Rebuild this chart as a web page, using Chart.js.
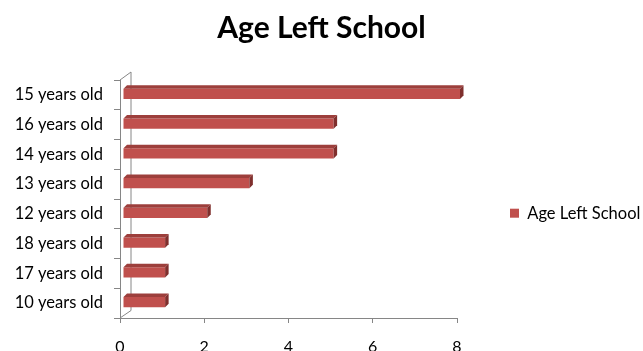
<!DOCTYPE html>
<html>
<head>
<meta charset="utf-8">
<script src="https://cdn.jsdelivr.net/npm/chart.js@4/dist/chart.umd.min.js"></script>
<style>
  body { margin: 0; background: #fff; }
  canvas { display: block; }
</style>
</head>
<body>
<canvas id="ageChart" width="643" height="351"></canvas>
<script>
var categories = ['15 years old', '16 years old', '14 years old', '13 years old',
                  '12 years old', '18 years old', '17 years old', '10 years old'];
var counts = [8, 5, 5, 3, 2, 1, 1, 1];
var seriesName = 'Age Left School';
var xTicks = [0, 2, 4, 6, 8];

var barColor = '#C0504D';
var axisGray = '#868686';
var fontFamily = 'Lato, "Open Sans", sans-serif';

// excel style 3d look: back wall lines + top / end faces of bars
var depth = 3.5;
var threeD = {
  id: 'threeD',
  beforeDatasetsDraw: function(chart) {
    var a = chart.chartArea, ctx = chart.ctx;
    ctx.save();
    ctx.strokeStyle = axisGray;
    ctx.lineWidth = 1;
    ctx.beginPath();
    ctx.moveTo(a.left, a.bottom);
    ctx.lineTo(a.left + 11, a.bottom - 7.5);
    ctx.lineTo(a.left + 11, a.top - 8);
    ctx.lineTo(a.left, a.top);
    ctx.stroke();
    ctx.restore();
    // bars sit a little into the depth
    ctx.save();
    ctx.translate(3, -1);
  },
  afterDatasetsDraw: function(chart) {
    var ctx = chart.ctx;
    var bars = chart.getDatasetMeta(0).data;
    bars.forEach(function(bar) {
      var p = bar.getProps(['x', 'y', 'base', 'height'], true);
      var top = p.y - p.height / 2, bottom = p.y + p.height / 2;
      ctx.fillStyle = '#9d3f3c';
      ctx.beginPath();
      ctx.moveTo(p.base, top);
      ctx.lineTo(p.x, top);
      ctx.lineTo(p.x + depth, top - depth);
      ctx.lineTo(p.base + depth, top - depth);
      ctx.closePath();
      ctx.fill();
      ctx.fillStyle = '#7f2f2d';
      ctx.beginPath();
      ctx.moveTo(p.x, top);
      ctx.lineTo(p.x + depth, top - depth);
      ctx.lineTo(p.x + depth, bottom - depth);
      ctx.lineTo(p.x, bottom);
      ctx.closePath();
      ctx.fill();
    });
    ctx.restore();
  }
};

var ctx = document.getElementById('ageChart');
var ageChart = new Chart(ctx, {
  type: 'bar',
  data: {
    labels: categories,
    datasets: [{
      label: seriesName,
      data: counts,
      backgroundColor: barColor,
      borderWidth: 0,
      categoryPercentage: 0.8,
      barPercentage: 0.44
    }]
  },
  options: {
    indexAxis: 'y',
    responsive: false,
    animation: false,
    layout: { padding: 0 },
    plugins: {
      title: {
        display: true,
        text: 'Age Left School',
        color: '#000',
        font: { family: fontFamily, size: 30, weight: 'bold' },
        padding: { top: 10, bottom: 34 }
      },
      legend: {
        position: 'right',
        fullSize: false,
        maxWidth: 186,
        title: { display: true, text: '', padding: { top: 0, bottom: 14 }, font: { size: 12 } },
        labels: {
          boxWidth: 9,
          boxHeight: 9,
          padding: 53,
          color: '#000',
          font: { family: fontFamily, size: 16.5 }
        }
      },
      tooltip: { enabled: false }
    },
    scales: {
      x: {
        min: 0,
        max: 8,
        afterBuildTicks: function(scale) {
          scale.ticks = xTicks.map(function(v) { return { value: v }; });
        },
        afterFit: function(scale) { scale.height = 33; },
        grid: { drawOnChartArea: false, tickLength: 5, color: axisGray },
        border: { color: axisGray },
        ticks: { color: '#000', padding: 14, font: { family: fontFamily, size: 16 } }
      },
      y: {
        afterFit: function(scale) { scale.width = 120; },
        grid: { drawOnChartArea: false, tickLength: 6, color: axisGray, offset: true },
        border: { color: axisGray },
        ticks: { color: '#000', padding: 11, font: { family: fontFamily, size: 16.5 } }
      }
    }
  },
  plugins: [threeD]
});
</script>
</body>
</html>
